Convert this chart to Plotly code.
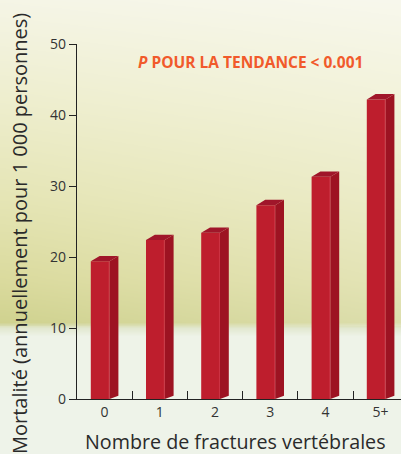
import base64, struct, zlib
import plotly.graph_objects as go

# ---- data ----
categories = ["0", "1", "2", "3", "4", "5+"]
mortality = [19.4, 22.4, 23.4, 27.3, 31.3, 42.2]
y_ticks = [0, 10, 20, 30, 40, 50]

# ---- background gradient image (pure python PNG) ----
W, H = 100, 454
stops = [(0, (246, 246, 233)), (100, (240, 240, 212)), (200, (232, 232, 190)),
         (280, (223, 223, 170)), (322, (214, 216, 158)), (328, (226, 232, 208)),
         (336, (238, 243, 232)), (454, (238, 243, 233))]

def col_at(y):
    for (y0, c0), (y1, c1) in zip(stops, stops[1:]):
        if y0 <= y <= y1:
            t = (y - y0) / (y1 - y0) if y1 > y0 else 0
            return [c0[k] + (c1[k] - c0[k]) * t for k in range(3)]
    return list(stops[-1][1])

rows = []
for yy in range(H):
    base = col_at(yy)
    row = bytearray()
    for xx in range(W):
        if yy < 326:
            f = 1.15 - 0.3 * xx / W
            c = [255 - (255 - b) * f for b in base]
        else:
            c = base
        row += bytes(max(0, min(255, int(round(v)))) for v in c)
    rows.append(bytes(row))
raw = b"".join(b"\x00" + r for r in rows)

def chunk(tag, data):
    return struct.pack(">I", len(data)) + tag + data + struct.pack(">I", zlib.crc32(tag + data) & 0xffffffff)

png = b"\x89PNG\r\n\x1a\n" + chunk(b"IHDR", struct.pack(">IIBBBBB", W, H, 8, 2, 0, 0, 0)) \
      + chunk(b"IDAT", zlib.compress(raw, 9)) + chunk(b"IEND", b"")
img_src = "data:image/png;base64," + base64.b64encode(png).decode()

# ---- geometry ----
FIG_W, FIG_H = 401, 454
ML, MR, MT, MB = 77, 0, 44, 55
PW, PH = FIG_W - ML - MR, FIG_H - MT - MB

front_off, front_w = -0.25, 0.34
depth_x, depth_top, depth_bot = 0.16, 0.75, 0.45

FRONT = "#BE1E2D"
SIDE = "#9D1322"
TOP = "#A0162A"
EDGE = "#CF3A4A"

xs = list(range(len(categories)))

side_x, side_y, top_x, top_y, edge_x, edge_y = [], [], [], [], [], []
for i, v in zip(xs, mortality):
    x0 = i + front_off
    x1 = x0 + front_w
    side_x += [x1, x1 + depth_x, x1 + depth_x, x1, x1, None]
    side_y += [0, depth_bot, v + depth_top, v, 0, None]
    top_x += [x0, x1, x1 + depth_x, x0 + depth_x, x0, None]
    top_y += [v, v, v + depth_top, v + depth_top, v, None]
    edge_x += [x1 - 0.01, x1 - 0.01, None]
    edge_y += [0, v, None]

fig = go.Figure()
fig.add_trace(go.Bar(x=xs, y=mortality, offset=front_off, width=front_w,
                     marker=dict(color=FRONT, line=dict(width=0)), hoverinfo="skip"))
fig.add_trace(go.Scatter(x=side_x, y=side_y, fill="toself", fillcolor=SIDE, mode="lines",
                         line=dict(width=0, color=SIDE), hoverinfo="skip"))
fig.add_trace(go.Scatter(x=top_x, y=top_y, fill="toself", fillcolor=TOP, mode="lines",
                         line=dict(width=0, color=TOP), hoverinfo="skip"))
fig.add_trace(go.Scatter(x=edge_x, y=edge_y, mode="lines",
                         line=dict(width=0.8, color=EDGE), hoverinfo="skip"))

units = PW / 55.2
fig.update_layout(
    width=FIG_W, height=FIG_H,
    margin=dict(l=ML, r=MR, t=MT, b=MB, pad=0),
    showlegend=False,
    paper_bgcolor="#eef3e9", plot_bgcolor="rgba(0,0,0,0)",
    font=dict(family="Open Sans", color="#333333"),
    images=[dict(source=img_src, xref="paper", yref="paper",
                 x=-ML / PW, y=1 + MT / PH, sizex=FIG_W / PW, sizey=FIG_H / PH,
                 xanchor="left", yanchor="top", sizing="stretch", layer="below")],
    xaxis=dict(range=[-0.5, -0.5 + units], tickmode="array", tickvals=xs, ticktext=categories,
               showgrid=False, zeroline=False, showline=True, linecolor="#222222", linewidth=1.3,
               ticks="", tickfont=dict(size=14, color="#333333"),
               minor=dict(tickmode="array", tickvals=[0.5, 1.5, 2.5, 3.5, 4.5], ticks="inside",
                          ticklen=8, tickwidth=1.3, tickcolor="#222222", showgrid=False),
               fixedrange=True),
    yaxis=dict(range=[0, 50], tickmode="array", tickvals=y_ticks,
               showgrid=False, zeroline=False, showline=True, linecolor="#222222", linewidth=1.3,
               ticks="outside", ticklen=7, tickwidth=1.3, tickcolor="#222222",
               tickfont=dict(size=14, color="#333333"), fixedrange=True),
    annotations=[
        dict(text="<b><i>P</i> POUR LA TENDANCE &lt; 0.001</b>", xref="paper", yref="paper",
             x=(250 - ML) / PW, y=(FIG_H - MB - 62) / PH, xanchor="center", yanchor="middle",
             showarrow=False, font=dict(size=15.5, color="#F15A2B", family="Open Sans")),
        dict(text="Nombre de fractures vertébrales", xref="paper", yref="paper",
             x=(235 - ML) / PW, y=(FIG_H - MB - 441) / PH, xanchor="center", yanchor="middle",
             showarrow=False, font=dict(size=19.7, color="#2a2a2a", family="Open Sans")),
        dict(text="Mortalité (annuellement pour 1 000 personnes)", xref="paper", yref="paper",
             x=(20 - ML) / PW, y=(FIG_H - MB - 234) / PH, xanchor="center", yanchor="middle",
             textangle=-90, showarrow=False,
             font=dict(size=20, color="#2a2a2a", family="Open Sans")),
    ],
)

fig.write_html("out.html")
